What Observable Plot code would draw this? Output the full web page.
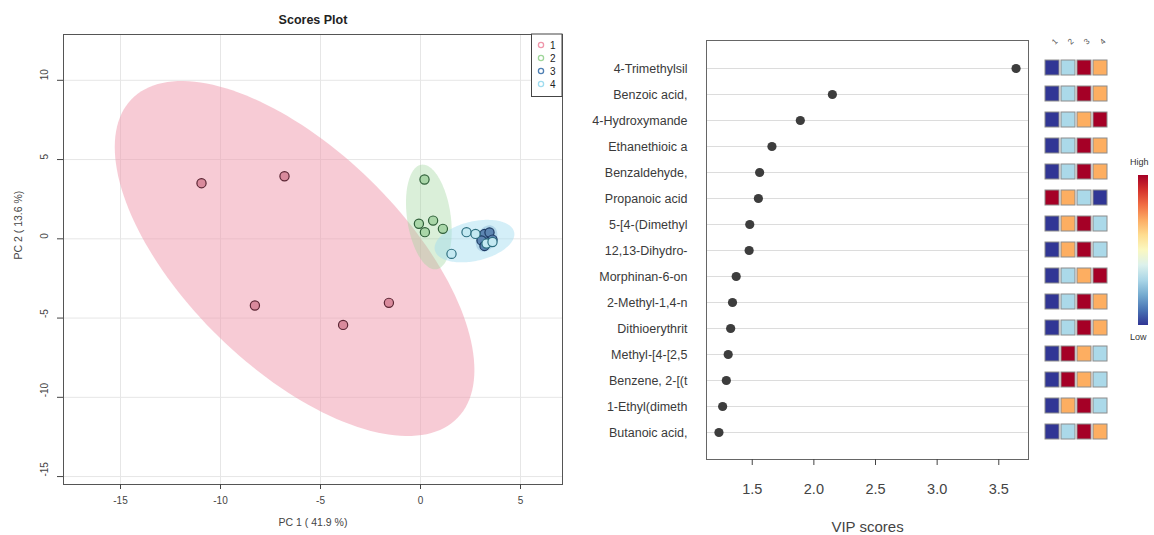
<!DOCTYPE html>
<html><head><meta charset="utf-8">
<script src="https://cdn.jsdelivr.net/npm/d3@7"></script>
<script src="https://cdn.jsdelivr.net/npm/@observablehq/plot@0.6"></script>
<style>
html,body{margin:0;padding:0;background:#fff;}
#wrap{position:relative;width:1154px;height:535px;overflow:hidden;font-family:"Liberation Sans",Arial,sans-serif;}
.layer{position:absolute;left:0;top:0;pointer-events:none;}
</style></head><body><div id="wrap"></div>
<script>
// ---------- Scores plot data ----------
const pc1 = [-10.95,-6.8,-8.28,-3.87,-1.58, 0.2,-0.08,0.22,0.63,1.12, 3.2,3.45,3.05,3.6,3.2, 1.55,2.3,2.75,3.3,3.6];
const pc2 = [3.51,3.95,-4.21,-5.43,-4.04, 3.74,0.95,0.42,1.15,0.63, 0.3,0.4,-0.1,-0.05,-0.45, -0.95,0.42,0.31,-0.3,-0.2];
const grp = [1,1,1,1,1, 2,2,2,2,2, 3,3,3,3,3, 4,4,4,4,4];
const groupNames = [1,2,3,4];
const ellipseFill = ["#ef97ab","#9fd69a","#4f7fb3","#9fdcef"];
const ellipseOpacity = [0.5,0.38,0.35,0.45];
const dotFill = ["#d98a9c","#a9d6a8","#5d86b2","#c4e9f2"];
const dotStroke = ["#5b2634","#2f5f39","#1d3a63","#2e6f80"];
const xTicks = [-15,-10,-5,0,5];
const yTicks = [-15,-10,-5,0,5,10];

// ---------- VIP data ----------
const features = ["4-Trimethylsil","Benzoic acid,","4-Hydroxymande","Ethanethioic a","Benzaldehyde,","Propanoic acid","5-[4-(Dimethyl","12,13-Dihydro-","Morphinan-6-on","2-Methyl-1,4-n","Dithioerythrit","Methyl-[4-[2,5","Benzene, 2-[(t","1-Ethyl(dimeth","Butanoic acid,"];
const vip = [3.64,2.15,1.89,1.66,1.56,1.55,1.48,1.475,1.37,1.34,1.325,1.305,1.29,1.26,1.23];
const vipTicks = [1.5,2.0,2.5,3.0,3.5];
// relative level (1 = low ... 4 = high) of each feature in each group
const rank1 = [1,1,1,1,1,4,1,1,1,1,1,1,1,1,1];
const rank2 = [2,2,2,2,2,3,3,3,2,2,2,4,4,3,2];
const rank3 = [4,4,3,4,4,2,4,4,3,4,4,3,3,4,4];
const rank4 = [3,3,4,3,3,1,2,2,4,3,3,2,2,2,3];
const heatColors = ["#313695","#abd9e9","#fdae61","#a50026"];

const FONT = '"Liberation Sans", Arial, sans-serif';
const wrap = document.getElementById("wrap");
function addLayer(el){ el.classList.add("layer"); el.style.position="absolute"; el.style.left="0px"; el.style.top="0px"; wrap.appendChild(el); }

// 95% confidence ellipse from group covariance
function ellipse(xs, ys, n=160){
  const k = xs.length, mx = d3.mean(xs), my = d3.mean(ys);
  let sxx=0, syy=0, sxy=0;
  for (let i=0;i<k;i++){ const dx=xs[i]-mx, dy=ys[i]-my; sxx+=dx*dx; syy+=dy*dy; sxy+=dx*dy; }
  sxx/=(k-1); syy/=(k-1); sxy/=(k-1);
  const a=Math.sqrt(sxx), b=sxy/a, c=Math.sqrt(Math.max(syy-b*b,1e-9));
  const t=Math.sqrt(5.991);
  return d3.range(n).map(i=>{const th=2*Math.PI*i/n, u=Math.cos(th), v=Math.sin(th); return {x:mx+t*a*u, y:my+t*(b*u+c*v)};});
}

const scores = pc1.map((x,i)=>({x, y:pc2[i], g:grp[i]}));
const ellMarks = groupNames.map((g,gi)=>{
  const pts = scores.filter(d=>d.g===g);
  return Plot.line(ellipse(pts.map(d=>d.x), pts.map(d=>d.y)), {x:"x", y:"y", curve:"linear-closed", stroke:"none", fill:ellipseFill[gi], fillOpacity:ellipseOpacity[gi]});
});
const dotMarks = groupNames.map((g,gi)=>Plot.dot(scores.filter(d=>d.g===g), {x:"x", y:"y", r:4.6, fill:dotFill[gi], stroke:dotStroke[gi], strokeWidth:1.2}));

const left = Plot.plot({
  width:580, height:535, marginLeft:63, marginRight:18, marginTop:34, marginBottom:51,
  style:{fontFamily:FONT, background:"transparent", color:"#444"},
  x:{domain:[-17.85,7.1]},
  y:{domain:[-15.5,12.89]},
  marks:[
    Plot.gridX(xTicks, {stroke:"#e6e6e6", strokeOpacity:1}),
    Plot.gridY(yTicks, {stroke:"#e6e6e6", strokeOpacity:1}),
    ...ellMarks,
    ...dotMarks,
    Plot.frame({stroke:"#555"}),
    Plot.axisX({ticks:xTicks, tickSize:5, tickPadding:7, tickFormat:d=>String(d), fontSize:10, label:null}),
    Plot.axisY({ticks:yTicks, tickSize:6, tickFormat:()=>"", label:null}),
    Plot.text(yTicks, {y:d=>d, frameAnchor:"left", dx:-19, rotate:-90, text:d=>String(d), fontSize:10, fill:"#444"}),
    Plot.text(["Scores Plot"], {frameAnchor:"top", dy:-19, text:d=>d, fontWeight:"bold", fontSize:12.5, fill:"#222"}),
    Plot.text(["PC 1 ( 41.9 %)"], {frameAnchor:"bottom", dy:41, text:d=>d, fontSize:10.5, fill:"#444"}),
    Plot.text(["PC 2 ( 13.6 %)"], {frameAnchor:"left", dx:-45, rotate:-90, text:d=>d, fontSize:10.5, fill:"#444"})
  ]
});
addLayer(left);

// legend box for scores plot
{
  const svg = d3.create("svg").attr("width",580).attr("height",110).style("font-family",FONT);
  svg.append("rect").attr("x",531.5).attr("y",34).attr("width",30.5).attr("height",62.5).attr("fill","#fff").attr("stroke","#444").attr("stroke-width",1);
  groupNames.forEach((g,i)=>{
    const y = 45 + i*13;
    svg.append("circle").attr("cx",541).attr("cy",y).attr("r",2.6).attr("fill","none").attr("stroke",ellipseFill[i]).attr("stroke-width",1.3);
    svg.append("text").attr("x",550).attr("y",y).attr("dy","0.35em").attr("font-size",10).attr("fill","#222").text(String(g));
  });
  addLayer(svg.node());
}

// ---------- VIP plot ----------
const vipData = features.map((f,i)=>({feature:f, vip:vip[i]}));
const right = Plot.plot({
  width:1154, height:535, marginLeft:706, marginRight:126, marginTop:40, marginBottom:76,
  style:{fontFamily:FONT, background:"transparent", color:"#444"},
  x:{domain:[1.129,3.741]},
  y:{type:"point", domain:features, padding:1},
  marks:[
    Plot.ruleY(features, {y:d=>d, stroke:"#dcdcdc", strokeWidth:1}),
    Plot.dot(vipData, {x:"vip", y:"feature", r:4.6, fill:"#3d3d3d"}),
    Plot.frame({stroke:"#666"}),
    Plot.axisY({tickSize:0, tickPadding:19, fontSize:12.5, label:null, fill:"#3a3a3a"}),
    Plot.axisX({ticks:vipTicks, tickSize:6, tickPadding:18, tickFormat:d=>d.toFixed(1), fontSize:14.5, label:null, fill:"#444"}),
    Plot.text(["VIP scores"], {frameAnchor:"bottom", dy:72, text:d=>d, fontSize:15, fill:"#444"})
  ]
});
addLayer(right);

// ---------- heatmap of group levels ----------
const ranks = [rank1, rank2, rank3, rank4];
const heatData = [];
features.forEach((f,i)=>groupNames.forEach((g,j)=>heatData.push({feature:f, group:g, rank:ranks[j][i]})));
const heat = Plot.plot({
  width:1154, height:535, marginLeft:1041.5, marginRight:43, marginTop:40, marginBottom:76,
  style:{fontFamily:FONT, background:"transparent", color:"#555"},
  x:{type:"band", domain:groupNames, padding:0.1, axis:null},
  y:{type:"band", domain:features, paddingInner:0.41, paddingOuter:0.705, axis:null},
  color:{type:"ordinal", domain:[1,2,3,4], range:heatColors},
  marks:[
    Plot.cell(heatData, {x:"group", y:"feature", fill:"rank", stroke:"#8c8c8c", strokeWidth:1, inset:0}),
    Plot.text(groupNames, {x:d=>d, frameAnchor:"top", dy:-1, rotate:-45, text:d=>String(d), fontSize:8, fill:"#555"})
  ]
});
addLayer(heat);

// ---------- High/Low colour bar ----------
{
  const svg = d3.create("svg").attr("width",1154).attr("height",535).style("font-family",FONT);
  const grad = svg.append("defs").append("linearGradient").attr("id","hl").attr("x1",0).attr("y1",0).attr("x2",0).attr("y2",1);
  d3.range(0,1.0001,0.1).forEach(t=>grad.append("stop").attr("offset",t).attr("stop-color",d3.interpolateRdYlBu(t)));
  svg.append("rect").attr("x",1138).attr("y",175).attr("width",10).attr("height",150).attr("fill","url(#hl)");
  svg.append("text").attr("x",1130).attr("y",165).attr("font-size",9).attr("fill","#333").text("High");
  svg.append("text").attr("x",1130).attr("y",340).attr("font-size",9).attr("fill","#333").text("Low");
  addLayer(svg.node());
}
</script></body></html>
